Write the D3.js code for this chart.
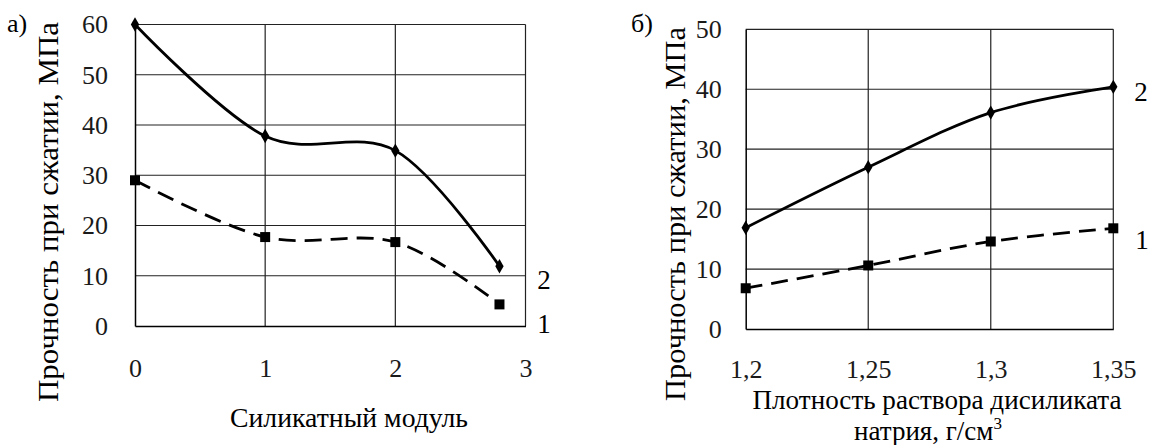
<!DOCTYPE html>
<html>
<head>
<meta charset="utf-8">
<script src="https://cdn.jsdelivr.net/npm/d3@7"></script>
<style>
  body { margin: 0; background: #fff; }
  svg { display: block; }
  svg text { font-family: "Liberation Serif", "Times New Roman", serif; }
  .tick text { fill: #1a1a1a; }
</style>
</head>
<body>
<svg id="chart" width="1153" height="445"></svg>
<script>
// panel a) - silicate modulus
const moduleX = [0, 1, 2, 2.8];
const moduleSeries1 = [29, 17.7, 16.7, 4.3];
const moduleSeries2 = [60, 37.8, 34.9, 11.9];
const moduleTicksX = [0, 1, 2, 3];
const moduleTickLabelsX = ["0", "1", "2", "3"];
const moduleTicksY = [0, 10, 20, 30, 40, 50, 60];

// panel б) - density of sodium disilicate solution
const densityX = [1.2, 1.25, 1.3, 1.35];
const densitySeries1 = [6.8, 10.6, 14.6, 16.8];
const densitySeries2 = [16.9, 27.0, 36.1, 40.4];
const densityTicksX = [1.2, 1.25, 1.3, 1.35];
const densityTickLabelsX = ["1,2", "1,25", "1,3", "1,35"];
const densityTicksY = [0, 10, 20, 30, 40, 50];

const yTitle = "Прочность при сжатии, МПа";

const svg = d3.select('#chart');

function drawPanel(p) {
    const g = svg.append('g');
    const x = d3.scaleLinear().domain(p.xDomain).range([p.left, p.right]);
    const y = d3.scaleLinear().domain(p.yDomain).range([p.bottom, p.top]);

    // grid
    g.selectAll('.hgrid').data(p.yTicks.slice(1)).enter().append('line')
        .attr('x1', p.left).attr('x2', p.right)
        .attr('y1', d => y(d)).attr('y2', d => y(d))
        .attr('stroke', '#222').attr('stroke-width', 1.2);
    g.selectAll('.vgrid').data(p.xTicks.slice(1)).enter().append('line')
        .attr('x1', d => x(d)).attr('x2', d => x(d))
        .attr('y1', p.top).attr('y2', p.bottom)
        .attr('stroke', '#222').attr('stroke-width', 1.2);

    // axes
    const yAxis = d3.axisLeft(y).tickValues(p.yTicks).tickSize(0).tickPadding(p.yPad);
    g.append('g').attr('transform', `translate(${p.left},0)`).call(yAxis)
        .attr('font-family', null).attr('font-size', 26)
        .call(a => a.select('.domain').attr('stroke', '#000').attr('stroke-width', 1.5));
    const xAxis = d3.axisBottom(x).tickValues(p.xTicks).tickSize(0).tickPadding(p.xPad)
        .tickFormat((d, i) => p.xLabels[i]);
    g.append('g').attr('transform', `translate(0,${p.bottom})`).call(xAxis)
        .attr('font-family', null).attr('font-size', 26)
        .call(a => a.select('.domain').attr('stroke', '#000').attr('stroke-width', 1.5));

    // lines
    const line = d3.line().x(d => x(d[0])).y(d => y(d[1])).curve(d3.curveCardinal.tension(0));
    const s1 = p.xs.map((v, i) => [v, p.s1[i]]);
    const s2 = p.xs.map((v, i) => [v, p.s2[i]]);
    g.append('path').attr('d', line(s2)).attr('fill', 'none')
        .attr('stroke', '#000').attr('stroke-width', 2.8);
    g.append('path').attr('d', line(s1)).attr('fill', 'none')
        .attr('stroke', '#000').attr('stroke-width', 2.8).attr('stroke-dasharray', '17,9');

    g.selectAll('.dia').data(s2).enter().append('path')
        .attr('d', d3.symbol(d3.symbolDiamond, 60))
        .attr('transform', d => `translate(${x(d[0])},${y(d[1])})`)
        .attr('fill', '#000');
    g.selectAll('.sq').data(s1).enter().append('path')
        .attr('d', d3.symbol(d3.symbolSquare, 100))
        .attr('transform', d => `translate(${x(d[0])},${y(d[1])})`)
        .attr('fill', '#000');

    // series numbers
    p.seriesLabels.forEach(l => {
        g.append('text').attr('x', l.x).attr('y', l.y).attr('font-size', 27)
            .attr('text-anchor', 'middle').text(l.text);
    });

    // panel letter
    g.append('text').attr('x', p.letter.x).attr('y', p.letter.y)
        .attr('font-size', 26).text(p.letter.text);

    // y title
    g.append('text')
        .attr('transform', `translate(${p.yTitle.x},${p.yTitle.y}) rotate(-90)`)
        .attr('text-anchor', 'middle').attr('font-size', 29)
        .attr('textLength', p.yTitle.len).attr('lengthAdjust', 'spacingAndGlyphs')
        .text(yTitle);

    // x title
    p.xTitle.forEach(t => {
        const el = g.append('text').attr('x', t.x).attr('y', t.y)
            .attr('text-anchor', 'middle').attr('font-size', 27);
        if (t.len) el.attr('textLength', t.len).attr('lengthAdjust', 'spacingAndGlyphs');
        el.text(t.text);
        if (t.sup) el.append('tspan').attr('font-size', 17).attr('dy', -11).text(t.sup);
    });
}

drawPanel({
    xDomain: [0, 3], yDomain: [0, 60],
    left: 135, right: 525.5, top: 24.5, bottom: 326,
    xTicks: moduleTicksX, xLabels: moduleTickLabelsX, yTicks: moduleTicksY,
    yPad: 27, xPad: 33,
    xs: moduleX, s1: moduleSeries1, s2: moduleSeries2,
    seriesLabels: [{x: 544, y: 289, text: "2"}, {x: 544, y: 333, text: "1"}],
    letter: {x: 7, y: 32, text: "а)"},
    yTitle: {x: 58, y: 212, len: 380},
    xTitle: [{x: 349, y: 427, text: "Силикатный модуль", len: 238}]
});

drawPanel({
    xDomain: [1.2, 1.35], yDomain: [0, 50],
    left: 745.7, right: 1113.3, top: 29.3, bottom: 329,
    xTicks: densityTicksX, xLabels: densityTickLabelsX, yTicks: densityTicksY,
    yPad: 24, xPad: 31,
    xs: densityX, s1: densitySeries1, s2: densitySeries2,
    seriesLabels: [{x: 1141, y: 101, text: "2"}, {x: 1142, y: 249, text: "1"}],
    letter: {x: 631, y: 32, text: "б)"},
    yTitle: {x: 685, y: 214, len: 374},
    xTitle: [{x: 937, y: 409, text: "Плотность раствора дисиликата", len: 369},
             {x: 928, y: 440, text: "натрия, г/см", sup: "3"}]
});
</script>
</body>
</html>
